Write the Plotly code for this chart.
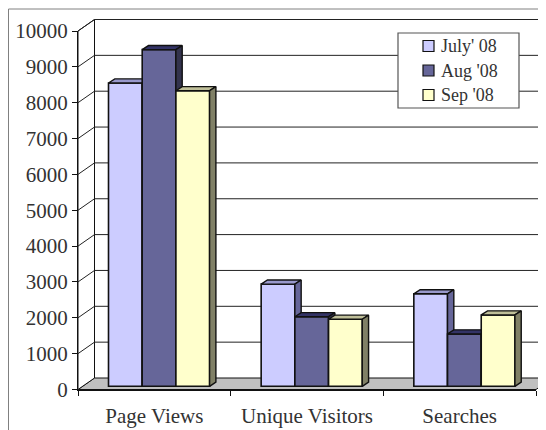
import plotly.graph_objects as go

categories = ["Page Views", "Unique Visitors", "Searches"]
series_names = ["July' 08", "Aug '08", "Sep '08"]
july_values = [8460, 2850, 2580]
aug_values = [9390, 1940, 1460]
sep_values = [8245, 1870, 1990]
y_ticks = list(range(0, 10001, 1000))

OFF = 8  # the page's own margin
W, H = 546 - OFF, 430 - OFF
def px(p): return (p - OFF) / W
def py(p): return 1 - (p - OFF) / H

X0, X3 = 78.0, 536.0
Y0, Y10K = 389.5, 31.0
PX_PER_CAT = (X3 - X0) / 3
PX_PER_VAL = (Y0 - Y10K) / 10000
def cx(p): return p / PX_PER_CAT
def vy(p): return p / PX_PER_VAL

WALL_DX, WALL_DY = cx(16.5), vy(11.5)
BAR_FX, BAR_FY = cx(5), vy(3.2)
BAR_BX, BAR_BY = cx(11.3), vy(7.3)
BAR_W = cx(33.7)
GROUP_PAD = cx(25.5)

X_RANGE = [-(X0 - OFF) / PX_PER_CAT, (546 - X0) / PX_PER_CAT]
Y_RANGE = [-(430 - Y0) / PX_PER_VAL, (Y0 - OFF) / PX_PER_VAL]

fills = ["#CCCCFF", "#666699", "#FFFFCC"]
tops = ["#9999CC", "#333366", "#BFBF99"]
sides = ["#666699", "#33334D", "#808066"]
edge = "#111111"
all_values = [july_values, aug_values, sep_values]

fig = go.Figure()

def poly(xs, ys, fill, a="", line=edge, lw=1.4):
    fig.add_trace(go.Scatter(x=xs + xs[:1], y=ys + ys[:1], mode="lines", fill="toself",
                             fillcolor=fill, line=dict(color=line, width=lw),
                             showlegend=False, hoverinfo="skip",
                             xaxis="x" + a, yaxis="y" + a))

# floor and side wall
poly([0, WALL_DX, 3 + WALL_DX, 3], [0, WALL_DY, WALL_DY, 0], "#C0C0C0", lw=1)
poly([0, WALL_DX, WALL_DX, 0], [0, WALL_DY, 10000 + WALL_DY, 10000], "#FFFFFF", lw=1)
# gridlines on the walls
gx, gy = [], []
for v in y_ticks[1:]:
    gx += [0, WALL_DX, 3 + WALL_DX, None]
    gy += [v, v + WALL_DY, v + WALL_DY, None]
fig.add_trace(go.Scatter(x=gx, y=gy, mode="lines", line=dict(color="#222222", width=1),
                         showlegend=False, hoverinfo="skip"))

# bars: each series sits on its own overlaid axes so later series hide earlier sides
for s, (name, vals) in enumerate(zip(series_names, all_values)):
    a = str(s + 2)
    for g, v in enumerate(vals):
        left = g + GROUP_PAD + s * BAR_W + BAR_FX
        right = left + BAR_W
        top = v + BAR_FY
        dx, dy = BAR_BX - BAR_FX, BAR_BY - BAR_FY
        poly([left, left + dx, right + dx, right], [top, top + dy, top + dy, top], tops[s], a)
        poly([right, right + dx, right + dx, right], [BAR_FY, BAR_FY + dy, top + dy, top], sides[s], a)
    fig.add_trace(go.Bar(
        x=[g + GROUP_PAD + s * BAR_W + BAR_FX + BAR_W / 2 for g in range(3)],
        y=vals, base=BAR_FY, width=BAR_W, name=name, showlegend=False,
        marker=dict(color=fills[s], line=dict(color=edge, width=1.6)),
        xaxis="x" + a, yaxis="y" + a, hoverinfo="skip"))

# front axes
fig.add_trace(go.Scatter(x=[0, 3], y=[0, 10000], mode="markers", marker=dict(opacity=0),
                         showlegend=False, hoverinfo="skip", xaxis="x5", yaxis="y5"))

font = "Liberation Serif"
text_col = "#333333"
hidden = dict(visible=False, fixedrange=True, automargin=False)

shapes = [
    dict(type="rect", xref="paper", yref="paper", x0=px(8.5), x1=1.1, y0=-0.1, y1=py(9),
         line=dict(color="#808080", width=1), layer="below"),
    dict(type="rect", xref="paper", yref="paper", x0=px(398), x1=px(519),
         y0=py(108), y1=py(33), fillcolor="white",
         line=dict(color="#555555", width=1.2), layer="above"),
]
annotations = []
for s, name in enumerate(series_names):
    yc = 46 + s * 24.5
    shapes.append(dict(type="rect", xref="paper", yref="paper", x0=px(423), x1=px(434),
                       y0=py(yc + 5.5), y1=py(yc - 5.5), fillcolor=fills[s],
                       line=dict(color=edge, width=1.2), layer="above"))
    annotations.append(dict(xref="paper", yref="paper", x=px(440), y=py(yc), text=name,
                            showarrow=False, xanchor="left", yanchor="middle",
                            borderpad=0, font=dict(size=18, family=font, color=text_col)))

layout = dict(
    width=W, height=H, margin=dict(l=0, r=0, t=0, b=0, autoexpand=False), autosize=False,
    paper_bgcolor="white", plot_bgcolor="rgba(0,0,0,0)",
    font=dict(family=font, color=text_col), showlegend=False,
    barmode="overlay",
    xaxis=dict(domain=[0, 1], range=X_RANGE, **hidden),
    yaxis=dict(domain=[0, 1], range=Y_RANGE, **hidden),
    xaxis5=dict(domain=[px(X0), px(X3)], range=[0, 3], anchor="y5", showgrid=False, zeroline=False,
                automargin=False, showline=True, linecolor="#111111", linewidth=1,
                tickmode="array", tickvals=[0.5, 1.5, 2.5], ticktext=categories, ticks="",
                tickfont=dict(size=21, family=font, color=text_col), ticklabelstandoff=7,
                minor=dict(tickmode="array", tickvals=[0, 1, 2, 3], ticks="outside", ticklen=5,
                           tickcolor="#111111", tickwidth=1, showgrid=False)),
    yaxis5=dict(domain=[py(Y0), py(Y10K)], range=[0, 10000], anchor="x5", showgrid=False,
                automargin=False, zeroline=False, showline=True, linecolor="#111111", linewidth=1,
                tickmode="array", tickvals=y_ticks, ticktext=[str(v) for v in y_ticks],
                ticks="outside", ticklen=5,
                tickcolor="#111111", tickwidth=1, tickfont=dict(size=21, family=font, color=text_col)),
    shapes=shapes, annotations=annotations,
)
for s in range(2, 5):
    layout[f"xaxis{s}"] = dict(overlaying="x", range=X_RANGE, **hidden)
    layout[f"yaxis{s}"] = dict(overlaying="y", range=Y_RANGE, **hidden)
fig.update_layout(**layout)
fig.write_html("out.html")
